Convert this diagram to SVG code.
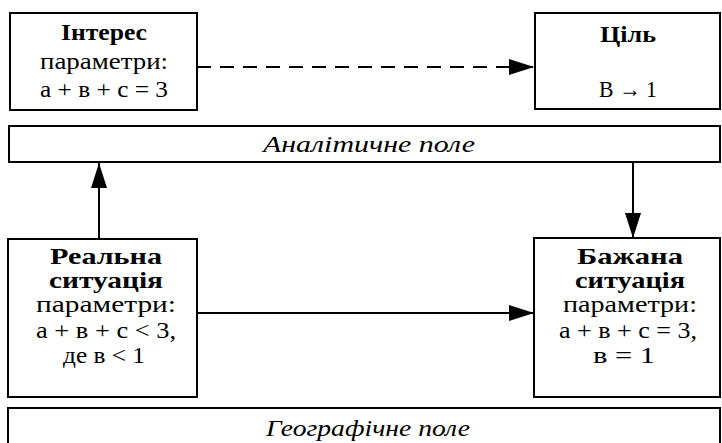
<svg xmlns="http://www.w3.org/2000/svg" width="722" height="443" viewBox="0 0 722 443">
<style>
.box{fill:#fff;stroke:#000;stroke-width:2}
.t{font-family:"Liberation Serif","Times New Roman",serif;font-size:23.5px;fill:#000;text-anchor:middle}
.b{font-weight:bold}
.i{font-style:italic;font-size:23px}
.ln{stroke:#000;stroke-width:2;fill:none}
</style>
<defs>
<marker id="ah" markerUnits="userSpaceOnUse" markerWidth="26" markerHeight="18" refX="25" refY="8" orient="auto">
<polygon points="0,0 25,8 0,16" fill="#000"/>
</marker>
</defs>
<rect width="722" height="443" fill="#fff"/>
<g id="connectors">
<line class="ln" x1="197" y1="67" x2="534" y2="67" stroke-dasharray="14 9" marker-end="url(#ah)"/>
<line class="ln" x1="99" y1="239" x2="99" y2="163" marker-end="url(#ah)"/>
<line class="ln" x1="633" y1="162" x2="633" y2="238" marker-end="url(#ah)"/>
<line class="ln" x1="197" y1="313" x2="534" y2="313" marker-end="url(#ah)"/>
</g>
<g id="interes">
<rect class="box" x="10" y="13" width="187" height="97"/>
<text class="t b" x="104" y="40" textLength="86" lengthAdjust="spacingAndGlyphs">Інтерес</text>
<text class="t" x="104" y="69" textLength="128" lengthAdjust="spacingAndGlyphs">параметри:</text>
<text class="t" x="104" y="97" textLength="128" lengthAdjust="spacingAndGlyphs">а + в + с = 3</text>
</g>
<g id="tsil">
<rect class="box" x="535" y="13" width="185" height="96"/>
<text class="t b" x="628" y="42" textLength="56" lengthAdjust="spacingAndGlyphs">Ціль</text>
<text class="t" x="628" y="97" textLength="58" lengthAdjust="spacingAndGlyphs">В → 1</text>
</g>
<g id="analitychne">
<rect class="box" x="9" y="126" width="711" height="36"/>
<text class="t i" x="369" y="152" textLength="212" lengthAdjust="spacingAndGlyphs">Аналітичне поле</text>
</g>
<g id="realna">
<rect class="box" x="8" y="239" width="189" height="158"/>
<text class="t b" x="106" y="264" textLength="112" lengthAdjust="spacingAndGlyphs">Реальна</text>
<text class="t b" x="106" y="288" textLength="114" lengthAdjust="spacingAndGlyphs">ситуація</text>
<text class="t" x="106" y="312" textLength="140" lengthAdjust="spacingAndGlyphs">параметри:</text>
<text class="t" x="106" y="338" textLength="140" lengthAdjust="spacingAndGlyphs">а + в + с &lt; 3,</text>
<text class="t" x="104" y="363" textLength="82" lengthAdjust="spacingAndGlyphs">де в &lt; 1</text>
</g>
<g id="bazhana">
<rect class="box" x="534" y="238" width="186" height="159"/>
<text class="t b" x="630" y="264" textLength="106" lengthAdjust="spacingAndGlyphs">Бажана</text>
<text class="t b" x="630" y="288" textLength="110" lengthAdjust="spacingAndGlyphs">ситуація</text>
<text class="t" x="630" y="312" textLength="134" lengthAdjust="spacingAndGlyphs">параметри:</text>
<text class="t" x="628" y="338" textLength="138" lengthAdjust="spacingAndGlyphs">а + в + с = 3,</text>
<text class="t" x="624" y="363" textLength="62" lengthAdjust="spacingAndGlyphs">в = 1</text>
</g>
<g id="heohrafichne">
<rect class="box" x="8" y="408" width="712" height="45"/>
<text class="t i" x="368" y="436" textLength="204" lengthAdjust="spacingAndGlyphs">Географічне поле</text>
</g>
</svg>
